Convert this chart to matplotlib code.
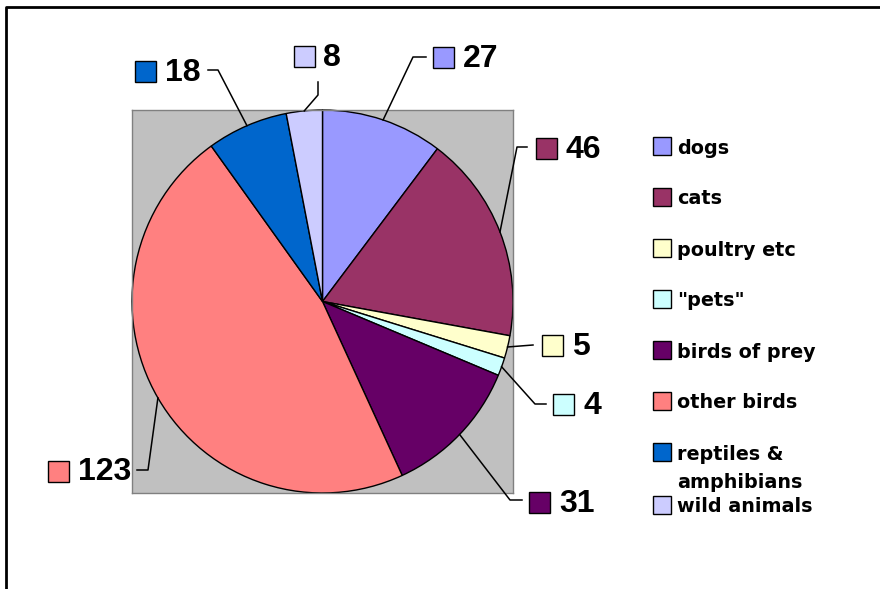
import matplotlib
matplotlib.use("Agg")
from matplotlib import pyplot as plt
from matplotlib.patches import Rectangle
import numpy as np

categories = ["dogs", "cats", "poultry etc", "\"pets\"", "birds of prey",
              "other birds", "reptiles &\namphibians", "wild animals"]
values = [27, 46, 5, 4, 31, 123, 18, 8]
colors = ["#9999FF", "#993366", "#FFFFCC", "#CCFFFF", "#660066",
          "#FF8080", "#0066CC", "#CCCCFF"]

# label layout in figure pixels (top-left origin): leader bend points, marker centre
leader_pts = [
    [(413, 57), (426, 57)],
    [(517, 147), (527, 147)],
    [(533, 345)],
    [(535, 404), (546, 404)],
    [(510, 500), (522, 500)],
    [(148, 470), (137, 470)],
    [(218, 70), (208, 70)],
    [(318, 95), (318, 82)],
]
marker_pos = [(443.5, 57.5), (546, 148), (552.5, 345.5), (563.5, 404.5),
              (539.5, 502), (58, 471), (145.5, 71.5), (304, 56)]

W, H = 880, 589
fig = plt.figure(figsize=(W / 100, H / 100), dpi=100, facecolor="white")

# plot area (grey box) holding the pie
ax = fig.add_axes([132 / W, 1 - 493 / H, 381 / W, 383 / H])
wedges, _ = ax.pie(values, colors=colors, startangle=90, counterclock=False,
                   wedgeprops=dict(edgecolor="black", linewidth=1.0), frame=True)
ax.set_xlim(-1.0, 1.0)
ax.set_ylim(-1.0, 1.0)
ax.set_aspect("auto")
ax.set_facecolor("#C0C0C0")
ax.set_xticks([])
ax.set_yticks([])
for s in ax.spines.values():
    s.set_color("#808080")
    s.set_linewidth(1.0)

# overlay in pixel coords for labels, leaders, legend, chart border
ov = fig.add_axes([0, 0, 1, 1], zorder=5)
ov.set_xlim(0, W)
ov.set_ylim(H, 0)
ov.axis("off")

ov.plot([6, 6, W + 5], [H + 5, 7, 7], color="black", lw=2, clip_on=False)

to_ov = ov.transData.inverted()
for i, w in enumerate(wedges):
    mid = np.deg2rad((w.theta1 + w.theta2) / 2)
    edge = ax.transData.transform((w.r * np.cos(mid), w.r * np.sin(mid)))
    ex, ey = to_ov.transform(edge)
    xs = [ex] + [p[0] for p in leader_pts[i]]
    ys = [ey] + [p[1] for p in leader_pts[i]]
    ov.plot(xs, ys, color="black", lw=1.1)
    mx, my = marker_pos[i]
    ov.add_patch(Rectangle((mx - 10.5, my - 10.5), 21, 21, facecolor=colors[i],
                           edgecolor="black", lw=1.0))
    ov.text(mx + 19.5, my + 9.5, str(values[i]), ha="left", va="baseline",
            fontsize=23, fontweight="bold", family="Liberation Sans")

# legend
leg_y = [146, 197, 248, 299, 350, 401, 452, 505]
for i, lab in enumerate(categories):
    y = leg_y[i]
    ov.add_patch(Rectangle((653, y - 9), 18, 18, facecolor=colors[i],
                           edgecolor="black", lw=1.0))
    for k, line in enumerate(lab.split("\n")):
        ov.text(677, y + 29 * k, line, ha="left", va="center_baseline",
                fontsize=13.8, fontweight="bold", family="DejaVu Sans")

fig.savefig("out.png", dpi=100, facecolor="white")
